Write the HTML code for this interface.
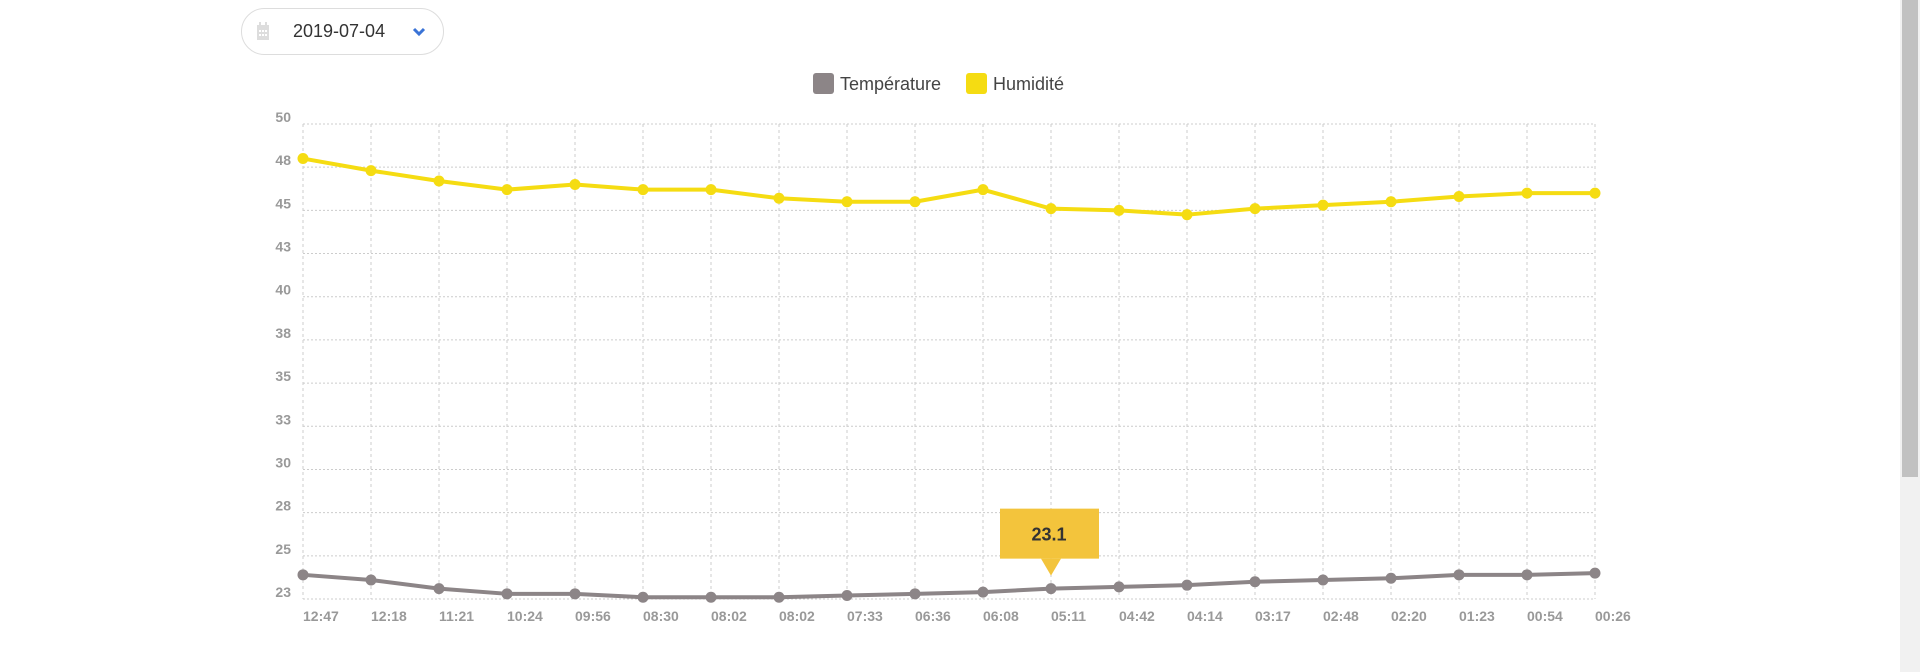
<!DOCTYPE html>
<html><head><meta charset="utf-8"><style>
html,body{margin:0;padding:0;background:#fff;width:1920px;height:672px;overflow:hidden;font-family:"Liberation Sans",sans-serif;}
#picker{position:absolute;left:241px;top:8px;width:203px;height:47px;border:1px solid #ddd;border-radius:24px;box-sizing:border-box;}
#picker .txt{position:absolute;left:51px;top:12px;font-size:18px;color:#333;}
#scroll{position:absolute;left:1900px;top:0;width:20px;height:672px;background:#f1f1f1;}
#thumb{position:absolute;left:2px;top:0;width:16px;height:477px;background:#c1c1c1;}
</style></head><body>
<div id="picker">
<svg style="position:absolute;left:15px;top:13px" width="12" height="18"><rect x="0" y="3" width="12" height="15" fill="#ddd"/><rect x="2" y="0" width="2" height="4" fill="#ddd"/><rect x="8" y="0" width="2" height="4" fill="#ddd"/><g fill="#fff"><rect x="2" y="8" width="2" height="2"/><rect x="5" y="8" width="2" height="2"/><rect x="8" y="8" width="2" height="2"/><rect x="2" y="12" width="2" height="2"/><rect x="5" y="12" width="2" height="2"/><rect x="8" y="12" width="2" height="2"/></g></svg>
<span class="txt">2019-07-04</span>
<svg style="position:absolute;left:170px;top:18px" width="14" height="10"><polyline points="2,2 7,7 12,2" fill="none" stroke="#3a73d6" stroke-width="3"/></svg>
</div>
<div id="scroll"><div id="thumb"></div></div>
<svg id="chart" width="1900" height="672" style="position:absolute;left:0;top:0"></svg>
<script>
const labels=["12:47","12:18","11:21","10:24","09:56","08:30","08:02","08:02","07:33","06:36","06:08","05:11","04:42","04:14","03:17","02:48","02:20","01:23","00:54","00:26"];
const humidity=[48.0,47.3,46.7,46.2,46.5,46.2,46.2,45.7,45.5,45.5,46.2,45.1,45.0,44.75,45.1,45.3,45.5,45.8,46.0,46.0];
const temperature=[23.9,23.6,23.1,22.8,22.8,22.6,22.6,22.6,22.7,22.8,22.9,23.1,23.2,23.3,23.5,23.6,23.7,23.9,23.9,24.0];
const yTicks=[50,47.5,45,42.5,40,37.5,35,32.5,30,27.5,25,22.5];
const tooltipIndex=11;
const NS="http://www.w3.org/2000/svg";
const svg=document.getElementById('chart');
const L=303,R=1595,T=124,B=599,yMin=22.5,yMax=50;
function xs(i){return L+(R-L)*i/(labels.length-1);}
function ys(v){return B-(v-yMin)/(yMax-yMin)*(B-T);}
function mk(tag,attrs,parent){const e=document.createElementNS(NS,tag);for(const k in attrs)e.setAttribute(k,attrs[k]);(parent||svg).appendChild(e);return e;}
// legend
const lg=mk('g',{});


const le1=mk('g',{},lg);


mk('rect',{x:813,y:73,width:21,height:21,rx:3,fill:'#8c8587'},le1);
const t1=mk('text',{x:840,y:90,'font-size':18,fill:'#444'},le1);t1.textContent='Température';
const le2=mk('g',{},lg);


mk('rect',{x:966,y:73,width:21,height:21,rx:3,fill:'#f5dc12'},le2);
const t2=mk('text',{x:993,y:90,'font-size':18,fill:'#444'},le2);t2.textContent='Humidité';
// grid
yTicks.forEach(v=>{
  const y=ys(v);
  const g=mk('line',{x1:L,x2:R,y1:y,y2:y,stroke:'#ccc','stroke-dasharray':'2,2','stroke-width':1});
  
  
  const t=mk('text',{x:291,y:y-2,'text-anchor':'end','font-size':14,'font-weight':'bold',fill:'#999'});
  t.textContent=Math.round(v);
  
  
});
labels.forEach((lab,i)=>{
  const x=xs(i);
  const g=mk('line',{x1:x,x2:x,y1:T,y2:B,stroke:'#ccc','stroke-dasharray':'3,3','stroke-width':1});
  
  
  const t=mk('text',{x:x,y:621,'font-size':14,'font-weight':'bold',fill:'#999'});
  t.textContent=lab;
  
  
});
function series(vals,color,name){
  const p=mk('polyline',{points:vals.map((v,i)=>xs(i)+','+ys(v)).join(' '),fill:'none',stroke:color,'stroke-width':4,'stroke-linejoin':'round'});
  
  
  vals.forEach((v,i)=>{
    const c=mk('circle',{cx:xs(i),cy:ys(v),r:5.5,fill:color});
    
    
  });
}
series(humidity,'#f5dc12','humidity');
series(temperature,'#8c8587','temperature');
// tooltip
const tx=xs(tooltipIndex),ty=ys(temperature[tooltipIndex]);
const tg=mk('g',{});


mk('rect',{x:tx-51,y:ty-80,width:99,height:50,fill:'#f3c43c'},tg);
mk('polygon',{points:(tx-10)+','+(ty-30)+' '+(tx+10)+','+(ty-30)+' '+tx+','+(ty-13),fill:'#f3c43c'},tg);
const tt=mk('text',{x:tx-2,y:ty-48,'text-anchor':'middle','font-size':18,'font-weight':'bold',fill:'#333'},tg);
tt.textContent=temperature[tooltipIndex].toFixed(1);
</script>
</body></html>
